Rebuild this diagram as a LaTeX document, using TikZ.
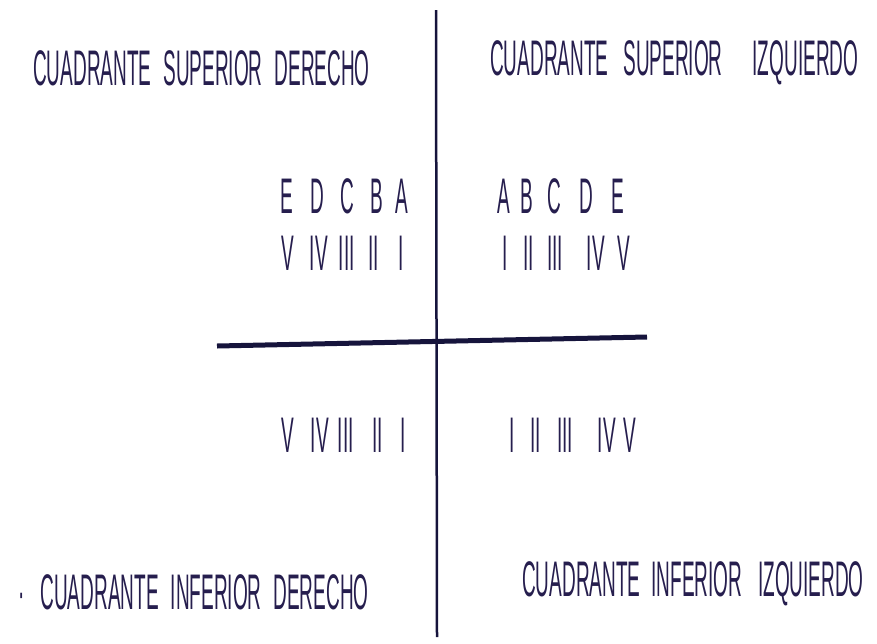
\documentclass[tikz,border=0pt]{standalone}
\usepackage{fontspec}
\newfontfamily\cuadfont[FakeStretch=0.38]{Liberation Sans}
\newcommand{\hueco}[1]{\hspace{#1pt}}
\definecolor{ink}{RGB}{38,30,78}
\definecolor{lineink}{RGB}{22,20,60}

\begin{document}
\begin{tikzpicture}[
    x=1pt, y=-1pt,
    cuadrante/.style={
        font=\cuadfont\fontsize{50}{50}\selectfont,
        text=ink,
        inner sep=0pt,
        anchor=base west
    },
    pieza/.style={
        cuadrante
    },
    eje/.style={
        draw=lineink,
        line width=2.5pt
    },
    plano/.style={
        draw=lineink,
        line width=5pt
    }
]
\useasboundingbox (0,0) rectangle (877,643);

% Ejes
\coordinate (arriba) at (436,10);
\coordinate (abajo) at (437,637);
\coordinate (izq) at (217,346);
\coordinate (der) at (647,337);

\draw[eje] (arriba) -- (abajo);
\draw[plano] (izq) -- (der);

% Cuadrantes superiores
\node[cuadrante] (supder) at (33,85)
    {CUADRANTE\hueco{12}SUPERIOR\hueco{12}DERECHO};
\node[cuadrante] (supizq) at (490,75)
    {CUADRANTE\hueco{15}SUPERIOR\hueco{30}IZQUIERDO};

% Letras
\node[pieza] (letrasder) at (280,213)
    {E\hueco{18}D\hueco{16}C\hueco{16}B\hueco{13}A};
\node[pieza] (letrasizq) at (497,213)
    {A\hueco{11}B\hueco{14}C\hueco{18}D\hueco{19}E};

% Numeros superiores
\node[pieza] (romder) at (281,270)
    {V\hueco{16}IV\hueco{11}III\hueco{14}II\hueco{19}I};
\node[pieza] (romizq) at (502,270)
    {I\hueco{16}II\hueco{13}III\hueco{24}IV\hueco{13}V};

% Numeros inferiores
\node[pieza] (infromder) at (281,452)
    {V\hueco{17}IV\hueco{9}III\hueco{19}II\hueco{17}I};
\node[pieza] (infromizq) at (509,452)
    {I\hueco{16}II\hueco{16}III\hueco{25}IV\hueco{8}V};

% Cuadrantes inferiores
\node[cuadrante] (infder) at (18,609)
    {\textperiodcentered\hueco{16}CUADRANTE\hueco{12}INFERIOR\hueco{12}DERECHO};
\node[cuadrante] (infizq) at (522,596)
    {CUADRANTE\hueco{11}INFERIOR\hueco{16}IZQUIERDO};

\end{tikzpicture}
\end{document}
